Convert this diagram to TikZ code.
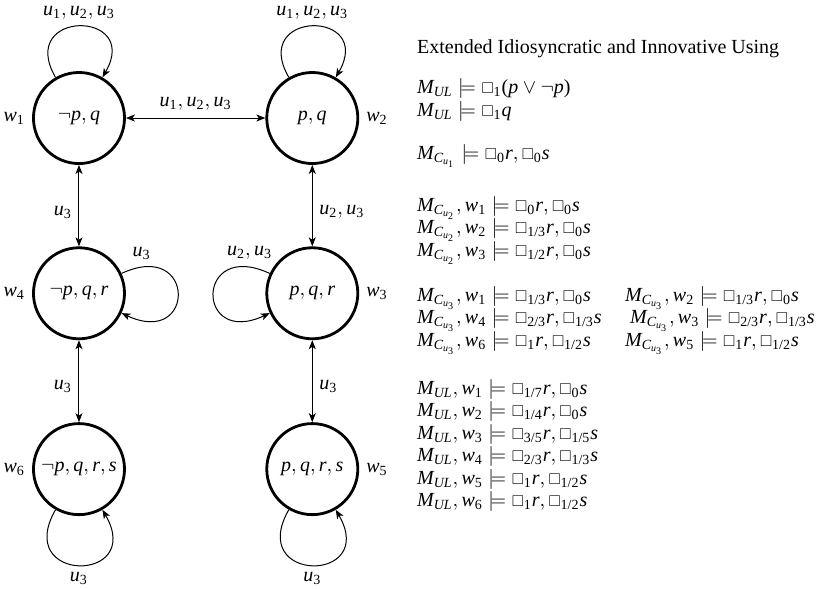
\documentclass[tikz,border=0pt]{standalone}
\usepackage{amsmath}
\usepackage{amssymb}
\usepackage{graphicx}
\usepackage[no-math]{fontspec}
\setmainfont{Liberation Serif}
% Times-like letters and digits in math
\DeclareSymbolFont{tmit}{TU}{\rmdefault}{m}{it}
\DeclareSymbolFont{tmrm}{TU}{\rmdefault}{m}{n}
\DeclareMathSymbol{p}{\mathalpha}{tmit}{`p}
\DeclareMathSymbol{q}{\mathalpha}{tmit}{`q}
\DeclareMathSymbol{r}{\mathalpha}{tmit}{`r}
\DeclareMathSymbol{s}{\mathalpha}{tmit}{`s}
\DeclareMathSymbol{u}{\mathalpha}{tmit}{`u}
\DeclareMathSymbol{w}{\mathalpha}{tmit}{`w}
\DeclareMathSymbol{M}{\mathalpha}{tmit}{`M}
\DeclareMathSymbol{U}{\mathalpha}{tmit}{`U}
\DeclareMathSymbol{L}{\mathalpha}{tmit}{`L}
\DeclareMathSymbol{C}{\mathalpha}{tmit}{`C}
\DeclareMathSymbol{0}{\mathalpha}{tmrm}{`0}
\DeclareMathSymbol{1}{\mathalpha}{tmrm}{`1}
\DeclareMathSymbol{2}{\mathalpha}{tmrm}{`2}
\DeclareMathSymbol{3}{\mathalpha}{tmrm}{`3}
\DeclareMathSymbol{4}{\mathalpha}{tmrm}{`4}
\DeclareMathSymbol{5}{\mathalpha}{tmrm}{`5}
\DeclareMathSymbol{6}{\mathalpha}{tmrm}{`6}
\DeclareMathSymbol{7}{\mathalpha}{tmrm}{`7}
\DeclareMathSymbol{/}{\mathord}{tmrm}{`/}
\DeclareMathSymbol{(}{\mathopen}{tmrm}{`(}
\DeclareMathSymbol{)}{\mathclose}{tmrm}{`)}
\newcommand{\nec}{\mathord{\scalebox{0.78}{$\square$}}}
\newcommand{\factsfont}{\fontsize{10}{11.25}\selectfont\lineskiplimit=-20pt\relax}
\usepackage{tikz}
\usetikzlibrary{arrows.meta}

\begin{document}
\begin{tikzpicture}[
        >={Stealth[length=4.5pt,width=3.5pt,inset=1.2pt]},
        world/.style={circle, draw, line width=1.4pt, minimum size=1.6cm, inner sep=0pt},
        rel/.style={line width=0.5pt}
    ]
            \useasboundingbox (-1.388,2.074) rectangle (13.11,-8.26);

            % worlds
            \node[world, label=left:$w_1$] (w1) at (0,0) {$\neg p, q$};
            \node[world, label=right:$w_2$] (w2) at (4.1,0) {$p, q$};
            \node[world, label=left:$w_4$] (w4) at (0,-3.08) {$\neg p, q, r$};
            \node[world, label=right:$w_3$] (w3) at (4.1,-3.08) {$p, q, r$};
            \node[world, label=left:$w_6$] (w6) at (0,-6.17) {$\neg p, q, r, s$};
            \node[world, label=right:$w_5$] (w5) at (4.1,-6.17) {$p, q, r, s$};

            % relations
            \draw[rel, <->] (w1) -- node[above] {$u_1, u_2, u_3$} (w2);
            \draw[rel, <->] (w1) -- node[pos=0.58, left] {$u_3$} (w4);
            \draw[rel, <->] (w2) -- node[pos=0.58, right] {$u_2, u_3$} (w3);
            \draw[rel, <->] (w4) -- node[pos=0.56, left] {$u_3$} (w6);
            \draw[rel, <->] (w3) -- node[pos=0.56, right] {$u_3$} (w5);

            % loops
            \draw[rel, ->] (w1) to[out=120, in=60, distance=1.38cm] node[above] {$u_1, u_2, u_3$} (w1);
            \draw[rel, ->] (w2) to[out=120, in=60, distance=1.38cm] node[above] {$u_1, u_2, u_3$} (w2);
            \draw[rel, ->] (w4) to[out=25, in=-25, distance=1.45cm] node[pos=0.1, above] {$u_3$} (w4);
            \draw[rel, ->] (w3) to[out=155, in=205, distance=1.45cm] node[pos=0.1, above] {$u_2, u_3$} (w3);
            \draw[rel, ->] (w6) to[out=240, in=300, distance=1.5cm] node[below] {$u_3$} (w6);
            \draw[rel, ->] (w5) to[out=240, in=300, distance=1.5cm] node[below] {$u_3$} (w5);

            % facts
            \node[anchor=north west, inner sep=0pt, align=left, font=\factsfont] (facts) at (5.935,1.381) {%
                Extended Idiosyncratic and Innovative Using\\[8.75pt]
                $M_{UL} \models \nec_1 (p \vee \neg p)$\\
                $M_{UL} \models \nec_1 q$\\[10.25pt]
                $M_{C_{u_1}} \models \nec_0 r, \nec_0 s$\\[14.75pt]
                $M_{C_{u_2}}, w_1 \models \nec_0 r, \nec_0 s$\\
                $M_{C_{u_2}}, w_2 \models \nec_{1/3} r, \nec_0 s$\\
                $M_{C_{u_2}}, w_3 \models \nec_{1/2} r, \nec_0 s$\\[11.25pt]
                \makebox[104pt][l]{$M_{C_{u_3}}, w_1 \models \nec_{1/3} r, \nec_0 s$}$M_{C_{u_3}}, w_2 \models \nec_{1/3} r, \nec_0 s$\\
                \makebox[106.5pt][l]{$M_{C_{u_3}}, w_4 \models \nec_{2/3} r, \nec_{1/3} s$}$M_{C_{u_3}}, w_3 \models \nec_{2/3} r, \nec_{1/3} s$\\
                \makebox[104pt][l]{$M_{C_{u_3}}, w_6 \models \nec_1 r, \nec_{1/2} s$}$M_{C_{u_3}}, w_5 \models \nec_1 r, \nec_{1/2} s$\\[12.75pt]
                $M_{UL}, w_1 \models \nec_{1/7} r, \nec_0 s$\\
                $M_{UL}, w_2 \models \nec_{1/4} r, \nec_0 s$\\
                $M_{UL}, w_3 \models \nec_{3/5} r, \nec_{1/5} s$\\
                $M_{UL}, w_4 \models \nec_{2/3} r, \nec_{1/3} s$\\
                $M_{UL}, w_5 \models \nec_1 r, \nec_{1/2} s$\\
                $M_{UL}, w_6 \models \nec_1 r, \nec_{1/2} s$};
        \end{tikzpicture}
\end{document}
